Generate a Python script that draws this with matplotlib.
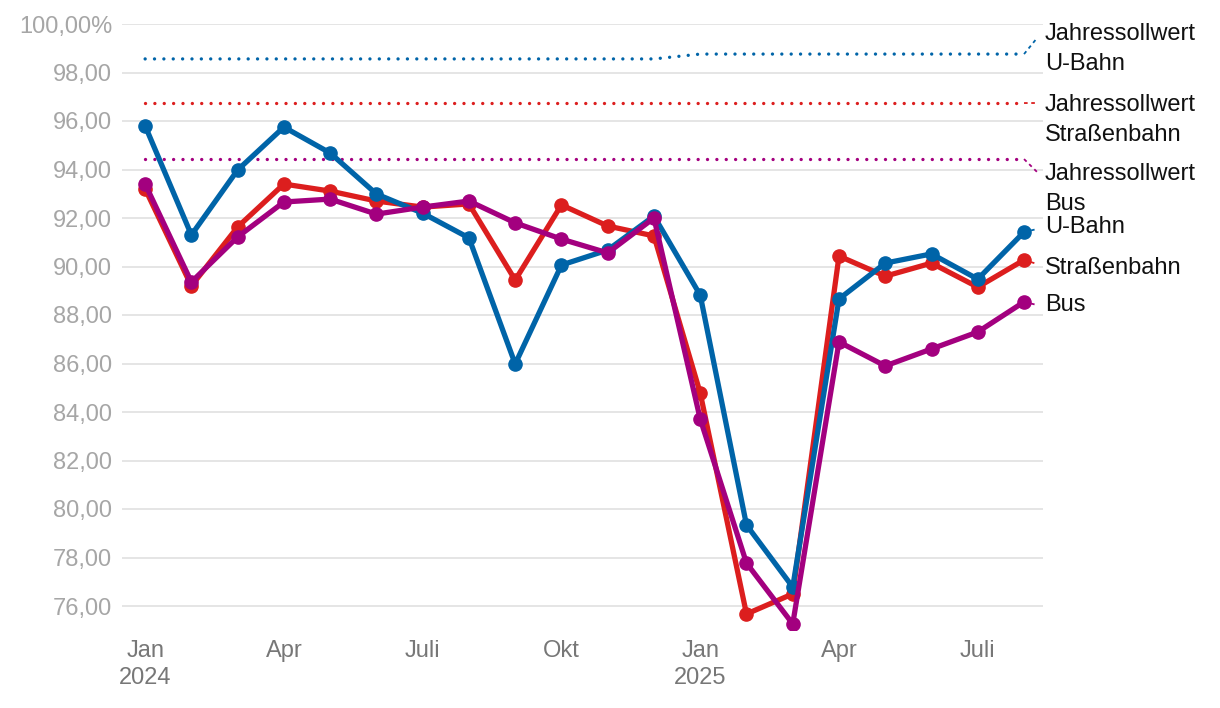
import matplotlib
matplotlib.use("Agg")
import matplotlib.pyplot as plt

plt.rcParams['font.family'] = ['Liberation Sans', 'DejaVu Sans']

# data
months = ['Jan\n2024', 'Feb', 'Mär', 'Apr', 'Mai', 'Jun', 'Juli', 'Aug', 'Sep', 'Okt', 'Nov', 'Dez',
          'Jan\n2025', 'Feb', 'Mär', 'Apr', 'Mai', 'Jun', 'Juli', 'Aug']
ubahn = [95.8, 91.3, 93.98, 95.75, 94.68, 92.99, 92.2, 91.18, 85.98, 90.06, 90.68, 92.08,
         88.82, 79.34, 76.78, 88.66, 90.14, 90.52, 89.48, 91.42]
strab = [93.2, 89.2, 91.63, 93.4, 93.11, 92.7, 92.45, 92.58, 89.44, 92.54, 91.67, 91.26,
         84.78, 75.67, 76.5, 90.43, 89.6, 90.14, 89.15, 90.27]
bus = [93.4, 89.36, 91.22, 92.66, 92.78, 92.16, 92.45, 92.7, 91.8, 91.13, 90.56, 92.0,
       83.71, 77.77, 75.26, 86.89, 85.9, 86.6, 87.3, 88.54]
soll_ubahn = [98.56] * 12 + [98.76] * 8
soll_strab = [96.74] * 20
soll_bus = [94.43] * 20
tick_pos = [0, 3, 6, 9, 12, 15, 18]
tick_lab = ['Jan\n2024', 'Apr', 'Juli', 'Okt', 'Jan\n2025', 'Apr', 'Juli']
yticks = list(range(76, 101, 2))

blue = '#0064a8'
red = '#dc1e1e'
purple = '#a3007f'

fig = plt.figure(figsize=(12.2, 7.08), dpi=100)
ax = fig.add_axes([122 / 1220, 1 - 630.25 / 708, (1043 - 122) / 1220, 606.25 / 708])
x = list(range(len(months)))

# gridlines
for y in yticks:
    ax.axhline(y, color='#e3e3e3', lw=1.3, zorder=0)

# target lines (dotted)
dot = (0, (0.01, 2.8))
for vals, c in [(soll_ubahn, blue), (soll_strab, red), (soll_bus, purple)]:
    ax.plot(x, vals, color=c, lw=2.4, linestyle=dot, dash_capstyle='round', zorder=2)

# series
for vals, c, z in [(strab, red, 3), (ubahn, blue, 4), (bus, purple, 5)]:
    ax.plot(x, vals, color=c, lw=3.8, marker='o', markersize=9.5, zorder=z,
            solid_joinstyle='round', solid_capstyle='round')

ax.set_xlim(-0.5, 19.41)
ax.set_ylim(75, 100)
for s in ax.spines.values():
    s.set_visible(False)
ax.set_yticks(yticks)
ax.set_yticklabels([f'{v},00' if v < 100 else '100,00%' for v in yticks])
ax.set_xticks(tick_pos)
ax.set_xticklabels(tick_lab, linespacing=1.3)
ax.tick_params(axis='y', length=0, pad=7, labelsize=17, labelcolor='#a6a6a6')
ax.tick_params(axis='x', length=0, pad=7, labelsize=17, labelcolor='#777777')


def py2y(py):
    return 100 - (py - 24) / 24.25


def px2x(px):
    return (px - 145) / 46.26


# labels on the right
lx = px2x(1045)
labels = [
    ('Jahressollwert\nU-Bahn', 49, blue, soll_ubahn[-1], 38),
    ('Jahressollwert\nStraßenbahn', 120, red, soll_strab[-1], 103),
    ('Jahressollwert\nBus', 189, purple, soll_bus[-1], 172),
    ('U-Bahn', 227, blue, ubahn[-1], 229),
    ('Straßenbahn', 268, red, strab[-1], 264),
    ('Bus', 305, purple, bus[-1], 305),
]
for txt, py, c, y0, yend in labels:
    ax.plot([19, px2x(1037)], [y0, py2y(yend)], color=c, lw=1.3, linestyle=(0, (2, 2)),
            clip_on=False, zorder=1)
    ax.text(lx, py2y(py), txt, fontsize=17, color='#111111', va='center', ha='left',
            linespacing=1.45, clip_on=False)

fig.savefig('out.png', dpi=100)
